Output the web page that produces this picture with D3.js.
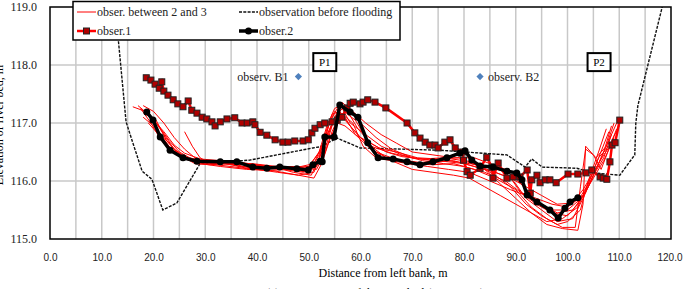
<!DOCTYPE html>
<html>
<head>
<meta charset="utf-8">
<script src="https://cdn.jsdelivr.net/npm/d3@7"></script>
<style>
  body { margin: 0; background: #fff; }
  svg { display: block; }
</style>
</head>
<body>
<script>
// chart values ([distance m, elevation m])
var xTicks = [0, 10, 20, 30, 40, 50, 60, 70, 80, 90, 100, 110, 120];
var yTicks = [115, 116, 117, 118, 119];

var beforeFlood = [[12.6,119.0],[14.7,117.02],[16.0,116.66],[17.8,116.17],[19.7,116.03],[21.8,115.5],[24.5,115.62],
  [29.0,116.3],[38.6,116.36],[50.8,116.57],[52.2,116.59],[55.5,116.74],[59.9,116.57],[75.4,116.53],[88.3,116.45],
  [91.8,116.24],[93.1,116.38],[95.1,116.24],[101.8,116.22],[104.9,116.14],[110.1,116.1],[113.0,116.45],
  [113.2,117.0],[113.6,117.3],[118.3,119.0]];

var obser1 = [[18.6,117.78],[19.5,117.74],[20.3,117.67],[21.1,117.60],[21.6,117.71],[22.0,117.55],[22.8,117.48],
  [23.8,117.40],[24.7,117.33],[25.7,117.28],[26.7,117.38],[27.4,117.22],[28.4,117.17],[29.4,117.10],[30.3,117.07],
  [31.3,117.02],[31.9,116.95],[32.9,117.02],[34.2,117.07],[35.7,117.09],[37.1,117.0],[38.1,117.0],[39.2,117.02],
  [39.6,116.97],[40.6,116.84],[41.9,116.79],[43.5,116.71],[45.0,116.67],[46.0,116.67],[47.3,116.69],[48.9,116.69],
  [49.9,116.71],[50.6,116.83],[51.2,116.91],[52.2,116.97],[53.1,117.0],[54.5,117.02],[55.5,117.05],[56.4,117.10],
  [57.4,117.26],[58.0,117.34],[58.6,117.36],[59.9,117.33],[60.5,117.36],[61.4,117.40],[62.8,117.36],[64.9,117.26],
  [69.0,117.0],[70.5,116.83],[71.5,116.74],[72.5,116.67],[73.4,116.62],[74.4,116.62],[75.0,116.57],[76.3,116.67],
  [77.3,116.71],[78.3,116.57],[79.8,116.50],[79.9,116.36],[80.6,116.16],[81.2,116.10],[83.1,116.22],[84.4,116.41],
  [85.4,116.24],[85.6,116.05],[86.6,116.31],[88.3,116.05],[89.5,116.07],[90.8,116.07],[92.2,116.19],[92.8,115.79],
  [93.1,116.02],[94.1,116.10],[94.7,115.97],[95.7,116.02],[96.6,116.02],[97.8,115.97],[100.1,116.12],[102.0,116.12],
  [103.6,116.14],[104.7,116.19],[106.3,116.07],[106.9,116.05],[107.6,116.03],[108.2,116.33],[108.6,116.62],
  [109.2,116.66],[110.1,117.05]];

var obser2 = [[18.7,117.19],[19.9,117.05],[21.3,116.76],[23.2,116.53],[25.7,116.40],[28.4,116.34],[32.9,116.33],
  [36.1,116.33],[39.2,116.24],[41.9,116.22],[44.4,116.24],[47.7,116.21],[49.9,116.19],[50.8,116.28],[52.2,116.34],
  [52.6,116.33],[53.1,116.76],[54.9,116.76],[56.0,117.31],[58.0,117.19],[59.5,117.10],[61.4,116.66],[63.4,116.40],
  [66.3,116.38],[69.0,116.33],[71.5,116.28],[74.0,116.33],[76.7,116.40],[79.2,116.48],[80.2,116.52],[81.5,116.36],
  [83.1,116.26],[85.6,116.24],[88.3,116.17],[90.2,116.14],[91.2,116.02],[92.2,115.76],[94.1,115.64],[96.6,115.5],
  [98.2,115.36],[99.5,115.53],[100.5,115.64],[102.0,115.71]];

var between23 = [
  [[17.0,117.3],[19.0,117.15],[21.0,116.85],[23.0,116.6],[25.0,116.45],[28.0,116.35],[32.0,116.3],[36.0,116.28],[40.0,116.2],[44.0,116.15],[48.0,116.1],[51.0,116.15],[53.0,116.6],[55.0,117.1],[56.5,117.25],[58.0,117.0],[61.0,116.8],[64.0,116.6],[68.0,116.45],[72.0,116.35],[76.0,116.3],[80.0,116.25],[84.0,116.15],[88.0,116.0],[91.0,115.8],[94.0,115.6],[97.0,115.45],[100.0,115.4],[102.0,115.6],[104.0,115.9],[106.0,116.3],[108.0,116.7],[109.5,117.0]],
  [[18.0,117.1],[20.0,116.95],[22.0,116.75],[24.0,116.55],[26.0,116.42],[29.0,116.35],[33.0,116.32],[37.0,116.25],[41.0,116.22],[45.0,116.2],[49.0,116.15],[51.5,116.25],[53.0,116.5],[54.5,116.95],[56.0,117.3],[57.5,117.15],[59.0,117.05],[62.0,116.6],[65.0,116.4],[69.0,116.35],[73.0,116.3],[77.0,116.35],[81.0,116.3],[85.0,116.25],[88.0,116.15],[90.0,115.95],[92.0,115.7],[95.0,115.5],[98.0,115.3],[101.0,115.35],[103.0,115.7],[105.0,116.1],[107.0,116.4],[108.5,116.8]],
  [[20.5,117.0],[22.0,116.8],[24.0,116.55],[26.0,116.4],[28.0,116.3],[31.0,116.28],[34.0,116.3],[38.0,116.22],[42.0,116.18],[46.0,116.2],[50.0,116.15],[52.0,116.4],[53.5,116.9],[55.0,117.2],[57.0,117.1],[59.0,116.8],[61.0,116.7],[64.0,116.55],[67.0,116.5],[71.0,116.4],[75.0,116.38],[79.0,116.4],[82.0,116.3],[86.0,116.1],[89.0,115.9],[92.0,115.6],[95.0,115.4],[98.0,115.25],[100.0,115.3],[102.5,115.5],[104.0,116.0],[106.0,116.5],[107.5,116.9]],
  [[17.5,117.25],[19.5,117.0],[21.5,116.7],[23.5,116.5],[26.0,116.38],[30.0,116.3],[35.0,116.25],[39.0,116.2],[43.0,116.25],[47.0,116.15],[50.5,116.1],[52.5,116.5],[54.0,117.0],[55.5,117.25],[57.0,117.05],[60.0,116.75],[63.0,116.5],[66.0,116.4],[70.0,116.3],[74.0,116.28],[78.0,116.3],[82.0,116.2],[86.0,116.05],[90.0,115.85],[93.0,115.55],[96.0,115.35],[99.0,115.2],[101.5,115.2],[102.5,115.9],[103.5,116.55],[105.0,116.45],[106.5,116.2],[108.0,116.55],[109.5,116.9]],
  [[26.0,116.85],[27.5,116.6],[29.0,116.4],[31.0,116.3],[35.0,116.3],[40.0,116.28],[45.0,116.22],[49.0,116.2],[51.0,116.3],[53.0,116.7],[54.5,117.15],[56.0,117.2],[58.0,116.95],[60.0,116.75],[62.0,116.6],[66.0,116.48],[70.0,116.4],[74.0,116.35],[78.0,116.35],[82.0,116.25],[86.0,116.15],[89.0,116.05],[91.0,115.8],[94.0,115.7],[97.0,115.6],[100.0,115.55],[103.0,115.75],[105.0,116.05],[107.0,116.35],[109.0,116.75]],
  [[18.5,117.15],[20.5,117.05],[22.5,116.7],[25.0,116.45],[28.0,116.33],[32.0,116.3],[37.0,116.32],[42.0,116.25],[46.0,116.2],[50.0,116.25],[52.5,116.55],[54.5,117.0],[56.5,117.35],[58.5,117.2],[61.0,117.0],[64.0,116.8],[67.0,116.65],[70.0,116.5],[74.0,116.45],[78.0,116.4],[82.0,116.4],[85.0,116.3],[88.0,116.2],[91.0,115.95],[94.0,115.65],[97.0,115.5],[100.0,115.5],[102.0,115.65],[104.0,115.95],[106.0,116.4],[108.0,116.6],[110.0,116.95]],
  [[19.0,117.0],[21.0,116.8],[23.0,116.55],[25.5,116.4],[29.0,116.3],[33.0,116.25],[38.0,116.2],[43.0,116.18],[48.0,116.1],[51.0,116.05],[52.5,116.3],[54.0,116.7],[55.5,117.0],[57.0,116.95],[59.0,116.8],[62.0,116.55],[66.0,116.35],[70.0,116.2],[74.0,116.15],[78.0,116.1],[81.0,116.05],[84.0,115.9],[87.0,115.75],[90.0,115.6],[93.0,115.45],[96.0,115.3],[99.0,115.35],[102.0,115.55],[104.0,115.95],[106.0,116.4],[108.0,116.85]],
  [[20.0,117.05],[22.0,116.85],[24.0,116.62],[26.0,116.48],[29.0,116.38],[33.0,116.35],[37.0,116.3],[41.0,116.25],[45.0,116.25],[49.0,116.22],[51.5,116.2],[53.0,116.45],[54.5,116.85],[56.0,117.15],[58.0,117.2],[60.0,117.0],[63.0,116.75],[66.0,116.55],[70.0,116.4],[75.0,116.35],[80.0,116.3],[84.0,116.2],[87.0,115.95],[90.0,115.7],[93.0,115.45],[96.0,115.25],[99.0,115.18],[102.0,115.15],[103.0,115.6],[103.5,116.6],[105.5,116.4],[107.5,116.6],[109.0,117.0]],
  [[16.0,117.28],[19.0,117.18],[21.0,116.95],[23.0,116.7],[25.0,116.5],[27.0,116.4],[30.0,116.33],[34.0,116.3],[39.0,116.3],[44.0,116.25],[48.5,116.25],[51.0,116.3],[52.0,116.45],[53.5,116.8],[55.0,117.05],[56.5,117.15],[58.5,117.0],[60.5,116.6],[63.0,116.4],[66.0,116.35],[69.0,116.3],[73.0,116.25],[77.0,116.2],[81.0,116.15],[85.0,116.0],[89.0,115.85],[92.0,115.75],[95.0,115.6],[98.0,115.45],[101.0,115.5],[103.5,115.8],[105.5,116.2],[107.0,116.5],[108.5,116.95]],
  [[18.0,117.3],[20.0,117.2],[22.0,117.0],[24.0,116.75],[26.0,116.55],[28.0,116.4],[31.0,116.33],[35.0,116.3],[40.0,116.27],[45.0,116.22],[50.0,116.25],[52.0,116.5],[53.5,116.95],[55.0,117.25],[56.0,117.3],[57.5,117.2],[59.5,116.9],[62.0,116.65],[65.0,116.5],[68.0,116.42],[72.0,116.38],[76.0,116.4],[80.0,116.35],[83.0,116.25],[86.0,116.15],[89.0,116.05],[92.0,115.9],[95.0,115.75],[98.0,115.6],[101.0,115.62],[103.0,115.85],[105.0,116.15],[107.0,116.45],[109.0,116.7]]
];

// bore hole points and bank labels
var boreholes = [{name: "observ. B1", x: 48.0, y: 117.8, side: "left"},
                 {name: "observ. B2", x: 83.1, y: 117.8, side: "right"}];
var piers = [{name: "P1", x: 53.1, y: 118.05}, {name: "P2", x: 106.1, y: 118.05}];

// plot frame
var width = 683, height = 289;
var plot = {left: 50, right: 671, top: 7, bottom: 239};

var x = d3.scaleLinear().domain([0, 120]).range([plot.left, plot.right]);
var y = d3.scaleLinear().domain([115, 119]).range([plot.bottom, plot.top]);

var line = d3.line()
    .x(function(d) { return x(d[0]); })
    .y(function(d) { return y(d[1]); });

var svg = d3.select("body").append("svg")
    .attr("width", width)
    .attr("height", height);

var serif = "'Liberation Serif', 'Times New Roman', serif";
var sans = "'Liberation Sans', Arial, sans-serif";

// grid lines: verticals every 5 m, horizontals every 1 m
svg.append("g").selectAll("line")
    .data(d3.range(5, 120, 5))
    .enter().append("line")
    .attr("x1", function(d) { return x(d); })
    .attr("x2", function(d) { return x(d); })
    .attr("y1", plot.top).attr("y2", plot.bottom)
    .style("stroke", "#c8c8c8").style("stroke-width", 1.5);

svg.append("g").selectAll("line")
    .data([116, 117, 118])
    .enter().append("line")
    .attr("x1", plot.left).attr("x2", plot.right)
    .attr("y1", function(d) { return y(d); })
    .attr("y2", function(d) { return y(d); })
    .style("stroke", "#c8c8c8").style("stroke-width", 1.5);

// clip the data lines to the frame
svg.append("clipPath").attr("id", "clip")
  .append("rect")
    .attr("x", plot.left).attr("y", plot.top)
    .attr("width", plot.right - plot.left).attr("height", plot.bottom - plot.top);

var g = svg.append("g").attr("clip-path", "url(#clip)");

// observation before flooding
g.append("path")
    .datum(beforeFlood)
    .attr("d", line)
    .style("fill", "none").style("stroke", "#111")
    .style("stroke-width", 1.4).style("stroke-dasharray", "3,1.3");

// observations between 2 and 3
g.selectAll(".b23")
    .data(between23)
    .enter().append("path")
    .attr("class", "b23")
    .attr("d", line)
    .style("fill", "none").style("stroke", "#ff0000").style("stroke-width", 1);

// obser.1
g.append("path")
    .datum(obser1)
    .attr("d", line)
    .style("fill", "none").style("stroke", "#ff0000").style("stroke-width", 2.5);

g.selectAll(".sq")
    .data(obser1)
    .enter().append("rect")
    .attr("class", "sq")
    .attr("x", function(d) { return x(d[0]) - 3; })
    .attr("y", function(d) { return y(d[1]) - 3; })
    .attr("width", 6).attr("height", 6)
    .style("fill", "#b00000").style("stroke", "#222").style("stroke-width", 1);

// obser.2
g.append("path")
    .datum(obser2)
    .attr("d", line)
    .style("fill", "none").style("stroke", "#000").style("stroke-width", 3.5)
    .style("stroke-linejoin", "round");

g.selectAll(".dot")
    .data(obser2)
    .enter().append("circle")
    .attr("class", "dot")
    .attr("cx", function(d) { return x(d[0]); })
    .attr("cy", function(d) { return y(d[1]); })
    .attr("r", 3.5)
    .style("fill", "#000");

// frame
svg.append("rect")
    .attr("x", plot.left).attr("y", plot.top)
    .attr("width", plot.right - plot.left).attr("height", plot.bottom - plot.top)
    .style("fill", "none").style("stroke", "#000").style("stroke-width", 1.5);

// axes
var xAxis = svg.append("g")
    .attr("transform", "translate(0," + plot.bottom + ")")
    .call(d3.axisBottom(x).tickValues(xTicks).tickSize(0).tickPadding(15).tickFormat(d3.format(".1f")));
xAxis.select(".domain").remove();
xAxis.selectAll("text").style("font-family", sans).style("font-size", "10px").style("fill", "#222");
xAxis.selectAll(".tick").filter(function(d) { return d === 120; }).select("text").attr("dx", -1.5);

var yAxis = svg.append("g")
    .attr("transform", "translate(" + plot.left + ",0)")
    .call(d3.axisLeft(y).tickValues(yTicks).tickSize(0).tickPadding(13).tickFormat(d3.format(".1f")));
yAxis.select(".domain").remove();
yAxis.selectAll("text").style("font-family", serif).style("font-size", "12px").style("fill", "#222");

// axis titles
svg.append("text")
    .attr("x", 383).attr("y", 277)
    .attr("text-anchor", "middle")
    .style("font-family", serif).style("font-size", "12px")
    .text("Distance from left bank, m");

// y title sits mostly outside the left edge, as in the source
svg.append("text")
    .attr("transform", "translate(3,125) rotate(-90)")
    .attr("text-anchor", "middle")
    .style("font-family", serif).style("font-size", "12px")
    .text("Elevation of river bed, m");

// caption, mostly cut off at the bottom edge
svg.append("text")
    .attr("x", 375).attr("y", 297)
    .attr("text-anchor", "middle")
    .style("font-family", serif).style("font-size", "12px")
    .text("(a) Cross-section of the river bed (Line No.1)");

// bore holes
svg.selectAll(".bh")
    .data(boreholes)
    .enter().append("path")
    .attr("class", "bh")
    .attr("d", d3.symbol().type(d3.symbolSquare).size(26))
    .attr("transform", function(d) { return "translate(" + x(d.x) + "," + y(d.y) + ") rotate(45)"; })
    .style("fill", "#4f81bd");

svg.selectAll(".bhl")
    .data(boreholes)
    .enter().append("text")
    .attr("class", "bhl")
    .attr("x", function(d) { return d.side === "left" ? x(d.x) - 10 : x(d.x) + 8; })
    .attr("y", function(d) { return y(d.y) + 4; })
    .attr("text-anchor", function(d) { return d.side === "left" ? "end" : "start"; })
    .style("font-family", serif).style("font-size", "12px").style("fill", "#222")
    .text(function(d) { return d.name; });

// pier labels
var pg = svg.selectAll(".pier")
    .data(piers)
    .enter().append("g")
    .attr("class", "pier")
    .attr("transform", function(d) { return "translate(" + x(d.x) + "," + y(d.y) + ")"; });
pg.append("rect")
    .attr("x", -11.5).attr("y", -9).attr("width", 23).attr("height", 18)
    .style("fill", "#fff").style("stroke", "#000").style("stroke-width", 2);
pg.append("text")
    .attr("y", 4).attr("text-anchor", "middle")
    .style("font-family", serif).style("font-size", "11px")
    .text(function(d) { return d.name; });

// legend
var legend = svg.append("g");
legend.append("rect")
    .attr("x", 73).attr("y", 1.5).attr("width", 327).attr("height", 38.5)
    .style("fill", "#fff").style("stroke", "#000").style("stroke-width", 1.5);

var items = [
  {label: "obser. between 2 and 3", lx: 77, ly: 12, color: "#ff0000", w: 1},
  {label: "observation before flooding", lx: 239, ly: 12, color: "#111", w: 1.4, dash: "3,1.3"},
  {label: "obser.1", lx: 77, ly: 31, color: "#ff0000", w: 2.5, marker: "square"},
  {label: "obser.2", lx: 239, ly: 31, color: "#000", w: 3.5, marker: "circle"}
];

items.forEach(function(it) {
  legend.append("line")
      .attr("x1", it.lx).attr("x2", it.lx + 19)
      .attr("y1", it.ly).attr("y2", it.ly)
      .style("stroke", it.color).style("stroke-width", it.w)
      .style("stroke-dasharray", it.dash || null);
  if (it.marker === "square") {
    legend.append("rect")
        .attr("x", it.lx + 9.5 - 3).attr("y", it.ly - 3).attr("width", 6).attr("height", 6)
        .style("fill", "#b00000").style("stroke", "#222");
  }
  if (it.marker === "circle") {
    legend.append("circle")
        .attr("cx", it.lx + 9.5).attr("cy", it.ly).attr("r", 3.5).style("fill", "#000");
  }
  legend.append("text")
      .attr("x", it.lx + 20).attr("y", it.ly + 4)
      .style("font-family", serif).style("font-size", "12px").style("fill", "#222")
      .text(it.label);
});
</script>
</body>
</html>
